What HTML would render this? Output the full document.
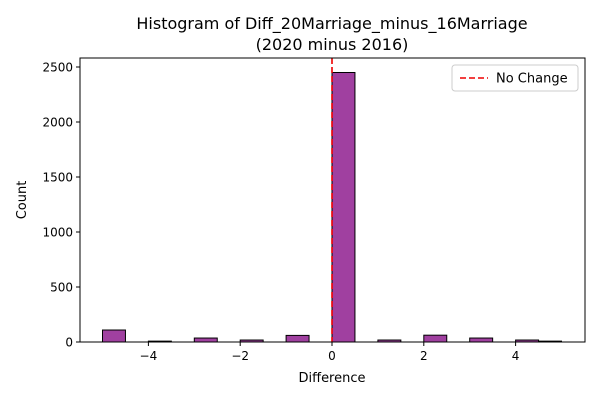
<!DOCTYPE html>
<html><head><meta charset="utf-8"><style>
body{margin:0;background:#fff;font-family:"Liberation Sans","DejaVu Sans",sans-serif;}
svg text{font-family:"DejaVu Sans","Liberation Sans",sans-serif;}
</style></head><body>
<svg id="chart" width="600" height="400" xmlns="http://www.w3.org/2000/svg">
<text x="332" y="29" font-size="16" text-anchor="middle">Histogram of Diff_20Marriage_minus_16Marriage</text>
<text x="332" y="50" font-size="16" text-anchor="middle">(2020 minus 2016)</text>
<g id="bars"></g>
<g id="axes"></g>
<text x="332" y="382" font-size="13" text-anchor="middle">Difference</text>
<text transform="translate(26,200) rotate(-90)" font-size="13" text-anchor="middle">Count</text>
<g>
<rect x="452" y="65" width="126" height="26" fill="#fff" stroke="#ccc" rx="3"/>
<line x1="460" y1="78" x2="488" y2="78" stroke="#e00" stroke-width="1.6" stroke-dasharray="6,3"/>
<text x="496" y="82.5" font-size="13">No Change</text>
</g>
</svg>
<script>
const binStarts=[-5,-4.5,-4,-3.5,-3,-2.5,-2,-1.5,-1,-0.5,0,0.5,1,1.5,2,2.5,3,3.5,4,4.5];
const counts=[109,0,8,0,36,0,18,0,60,0,2450,0,18,0,62,0,36,0,18,8];
const xTicks=[-4,-2,0,2,4];
const yTicks=[0,500,1000,1500,2000,2500];
const binWidth=0.5;
const L=80,R=585,T=58,B=342;
const xs=v=>332+v*45.9;
const ys=v=>342-v*0.11;
const NS="http://www.w3.org/2000/svg";
const bars=document.getElementById('bars'),axes=document.getElementById('axes');
function mk(t,a,p){const e=document.createElementNS(NS,t);for(const k in a)e.setAttribute(k,a[k]);p.appendChild(e);return e;}
binStarts.forEach((s,i)=>{if(!counts[i])return;
const r=mk('rect',{x:xs(s),y:ys(counts[i]),width:xs(s+binWidth)-xs(s),height:ys(0)-ys(counts[i]),fill:'#a040a0',stroke:'#000','stroke-width':1},bars);

});
const ref=mk('line',{x1:xs(0),x2:xs(0),y1:T,y2:B,stroke:'#e00','stroke-width':1.6,'stroke-dasharray':'6,3'},bars);


const fr=mk('rect',{x:L,y:T,width:R-L,height:B-T,fill:'none',stroke:'#000','stroke-width':1},axes);


xTicks.forEach(v=>{mk('line',{x1:xs(v),x2:xs(v),y1:B,y2:B+4,stroke:'#000'},axes);
const t=mk('text',{x:xs(v),y:B+18,'font-size':12,'text-anchor':'middle'},axes);t.textContent=(v<0?'\u2212'+(-v):v);

});
yTicks.forEach(v=>{mk('line',{x1:L-4,x2:L,y1:ys(v),y2:ys(v),stroke:'#000'},axes);
const t=mk('text',{x:L-7,y:ys(v)+4.5,'font-size':12,'text-anchor':'end'},axes);t.textContent=v;

});
</script>
</body></html>
